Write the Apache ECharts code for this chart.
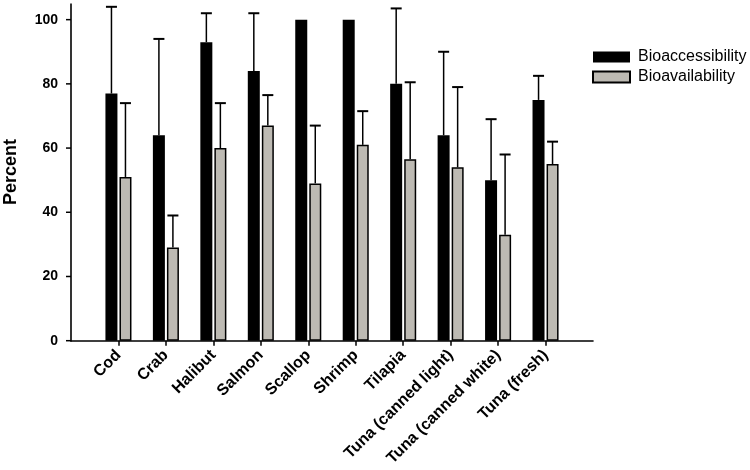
<!DOCTYPE html>
<html>
<head>
<meta charset="utf-8">
<script src="https://cdn.jsdelivr.net/npm/echarts@6/dist/echarts.min.js"></script>
<style>
html, body { margin: 0; padding: 0; background: #fff; }
#chart { width: 750px; height: 470px; }
</style>
</head>
<body>
<div id="chart"></div>
<script>
// values
var categories = ['Cod', 'Crab', 'Halibut', 'Salmon', 'Scallop', 'Shrimp', 'Tilapia',
    'Tuna (canned light)', 'Tuna (canned white)', 'Tuna (fresh)'];
var bioaccessibility = [77, 64, 93, 84, 100, 100, 80, 64, 50, 75];
var bioaccessibilitySd = [27, 30, 9, 18, 0, 0, 23.5, 26, 19, 7.5];
var bioavailability = [51, 29, 60, 67, 49, 61, 56.5, 54, 33, 55];
var bioavailabilitySd = [23, 10, 14, 9.5, 18, 10.5, 24, 25, 25, 7];
var yTicks = [0, 20, 40, 60, 80, 100];
var yMax = 105;

var FONT = 'Liberation Sans, Arial, sans-serif';
var GRAY = '#bdbab3';

// one empty slot on each side, like the original axis
var axisCats = [''].concat(categories).concat(['']);

function padded(arr) {
    return ['-'].concat(arr).concat(['-']);
}

function errData(vals, sds) {
    var out = [];
    for (var i = 0; i < vals.length; i++) {
        out.push([i + 1, vals[i], sds[i]]);
    }
    return out;
}

function errRenderer(side) {
    return function (params, api) {
        var sd = api.value(2);
        if (!(sd > 0)) return;
        var v = api.value(1);
        var base = api.coord([api.value(0), v]);
        var top = api.coord([api.value(0), v + sd]);
        var x = base[0] + side * 7;
        return {
            type: 'group',
            children: [
                { type: 'line', shape: { x1: x, y1: base[1], x2: x, y2: top[1] },
                  style: { stroke: '#000', lineWidth: 1.5 } },
                { type: 'line', shape: { x1: x - 5.5, y1: top[1], x2: x + 5.5, y2: top[1] },
                  style: { stroke: '#000', lineWidth: 2 } }
            ]
        };
    };
}

// y axis line and its ticks, placed with the chart's own scale
function yAxisRenderer(params, api) {
    var t = api.value(1);
    var p = api.coord([0, t]);
    var children = [
        { type: 'line', shape: { x1: p[0] - 5, y1: p[1], x2: p[0], y2: p[1] },
          style: { stroke: '#000', lineWidth: 1.5 } }
    ];
    if (params.dataIndex === 0) {
        var top = api.coord([0, yMax]);
        children.push({ type: 'line', shape: { x1: p[0], y1: p[1] + 0.8, x2: top[0], y2: top[1] },
            style: { stroke: '#000', lineWidth: 1.6 } });
    }
    return { type: 'group', children: children };
}

var chart = echarts.init(document.getElementById('chart'));
chart.setOption({
    animation: false,
    backgroundColor: '#fff',
    grid: { left: 71, right: 157, top: 3.6, bottom: 129.3, outerBoundsMode: 'none' },
    graphic: [{
        type: 'text',
        x: 11,
        y: 172,
        rotation: Math.PI / 2,
        style: {
            text: 'Percent',
            fill: '#000',
            font: 'bold 18px ' + FONT,
            align: 'center',
            verticalAlign: 'middle'
        }
    }],
    legend: {
        data: ['Bioaccessibility', 'Bioavailability'],
        orient: 'vertical',
        left: 592,
        top: 49,
        padding: 0,
        itemWidth: 37,
        itemHeight: 11,
        itemGap: 4,
        icon: 'rect',
        textStyle: { fontFamily: FONT, fontSize: 16, color: '#000', padding: [0, 0, 0, 3] }
    },
    xAxis: {
        type: 'category',
        data: axisCats,
        boundaryGap: false,
        axisLine: { lineStyle: { color: '#000', width: 1.6 } },
        axisTick: {
            length: 5,
            lineStyle: { color: '#000', width: 1.5 },
            interval: function (i) { return i > 0 && i < axisCats.length - 1; }
        },
        axisLabel: {
            interval: 0,
            rotate: 45,
            margin: 12,
            color: '#000',
            fontFamily: FONT,
            fontWeight: 'bold',
            fontSize: 16
        },
        splitLine: { show: false }
    },
    yAxis: {
        type: 'value',
        min: 0,
        max: yMax,
        interval: 20,
        axisLine: { show: false },
        axisTick: { show: false },
        axisLabel: {
            margin: 13,
            color: '#000',
            fontFamily: FONT,
            fontWeight: 'bold',
            fontSize: 14,
            formatter: function (v) { return yTicks.indexOf(v) >= 0 ? String(v) : ''; }
        },
        splitLine: { show: false }
    },
    series: [
        {
            name: 'Bioaccessibility',
            type: 'bar',
            data: padded(bioaccessibility),
            barWidth: 12,
            barGap: '17%',
            itemStyle: { color: '#000', borderColor: '#000', borderWidth: 0 }
        },
        {
            name: 'Bioavailability',
            type: 'bar',
            data: padded(bioavailability),
            barWidth: 12,
            itemStyle: { color: GRAY, borderColor: '#000', borderWidth: 1.5 }
        },
        {
            name: 'err1',
            type: 'custom',
            data: errData(bioaccessibility, bioaccessibilitySd),
            encode: { x: 0, y: 1 },
            renderItem: errRenderer(-1),
            z: 3
        },
        {
            name: 'err2',
            type: 'custom',
            data: errData(bioavailability, bioavailabilitySd),
            encode: { x: 0, y: 1 },
            renderItem: errRenderer(1),
            z: 3
        },
        {
            name: 'yAxisLine',
            type: 'custom',
            clip: false,
            silent: true,
            data: yTicks.map(function (t) { return [0, t]; }),
            encode: { x: 0, y: 1 },
            renderItem: yAxisRenderer,
            z: 4
        }
    ]
});
</script>
</body>
</html>
